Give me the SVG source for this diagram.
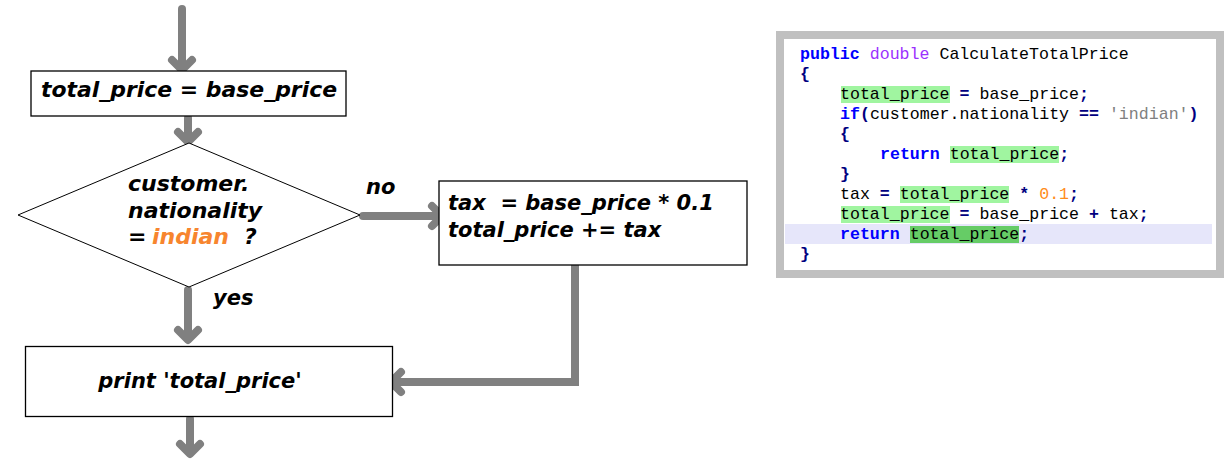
<svg xmlns="http://www.w3.org/2000/svg" width="1231" height="476" viewBox="0 0 1231 476">
<style>
.box{fill:#fff;stroke:#000;stroke-width:1.3}
.dia{fill:#fff;stroke:#000;stroke-width:1}
.fl{font-family:"DejaVu Sans",sans-serif;font-weight:bold;font-style:italic;font-size:21px;fill:#000;white-space:pre}
.big{font-size:22px}
.org{fill:#f7852e}
.arr{fill:none;stroke:#808080;stroke-width:8;stroke-linecap:round;stroke-linejoin:miter}
.head{fill:none;stroke:#808080;stroke-width:8;stroke-linecap:round;stroke-linejoin:round}
.code{font-family:"Liberation Mono",monospace;font-size:16.6px;fill:#000;white-space:pre}
.kw{fill:#0000ff;font-weight:bold}
.ty{fill:#9b30ff}
.op{fill:#000080;font-weight:bold}
.st{fill:#808080}
.nm{fill:#ff8c1a}
.hl{fill:#a0f5a0}
.hl2{fill:#66cc66}
</style>
<g id="connectors">
  <path class="arr" d="M182 9 V68"/>
  <path class="head" d="M172 60 L182 70 L192 60"/>
  <path class="arr" d="M188 118 V140"/>
  <path class="head" d="M178 132 L188 142 L198 132"/>
  <path class="arr" d="M363 216 H440"/>
  <path class="head" d="M432 206 L442 216 L432 226"/>
  <path class="arr" d="M188 290 V338"/>
  <path class="head" d="M178 330 L188 340 L198 330"/>
  <path class="arr" d="M575 265 V382 H393"/>
  <path class="head" d="M401 372 L391 382 L401 392"/>
  <path class="arr" d="M190 419 V452"/>
  <path class="head" d="M180 444 L190 454 L200 444"/>
</g>
<g id="n1">
  <rect class="box" x="31" y="71" width="315" height="45"/>
  <text class="fl" x="189" y="97" text-anchor="middle" textLength="296" lengthAdjust="spacingAndGlyphs">total_price = base_price</text>
</g>
<g id="n2">
  <polygon class="dia" points="189,143 360,215 189,287 18,215"/>
  <text class="fl big" x="128" y="191">customer.</text>
  <text class="fl big" x="128" y="218">nationality</text>
  <text class="fl big" x="128" y="244">=</text>
  <text class="fl big org" x="152" y="244">indian</text>
  <text class="fl big" x="244" y="244">?</text>
</g>
<g id="labels">
  <text class="fl" x="366" y="194">no</text>
  <text class="fl" x="213" y="305">yes</text>
</g>
<g id="n3">
  <rect class="box" x="439" y="181" width="308" height="84"/>
  <text class="fl" x="448" y="210">tax  = base_price * 0.1</text>
  <text class="fl" x="448" y="237">total_price += tax</text>
</g>
<g id="n4">
  <rect class="box" x="25.5" y="346.5" width="367" height="70"/>
  <text class="fl" x="200" y="388" text-anchor="middle">print 'total_price'</text>
</g>
<g id="code">
  <rect x="780" y="35" width="440" height="239" fill="#fff" stroke="#c0c0c0" stroke-width="8"/>
  <rect x="785" y="224" width="427" height="20" fill="#e6e6fa"/>
  <rect class="hl" x="841" y="86" width="109" height="17"/>
  <rect class="hl" x="950" y="146" width="109" height="17"/>
  <rect class="hl" x="900" y="186" width="109" height="17"/>
  <rect class="hl" x="841" y="206" width="109" height="17"/>
  <rect class="hl2" x="910" y="226" width="109" height="17"/>
  <text class="code" x="800" y="59"><tspan class="kw">public</tspan> <tspan class="ty">double</tspan> CalculateTotalPrice</text>
  <text class="code" x="800" y="79"><tspan class="op">{</tspan></text>
  <text class="code" x="840" y="99">total_price <tspan class="op">=</tspan> base_price<tspan class="op">;</tspan></text>
  <text class="code" x="840" y="119"><tspan class="kw">if</tspan><tspan class="op">(</tspan>customer.nationality <tspan class="op">==</tspan> <tspan class="st">'indian'</tspan><tspan class="op">)</tspan></text>
  <text class="code" x="840" y="139"><tspan class="op">{</tspan></text>
  <text class="code" x="880" y="159"><tspan class="kw">return</tspan> total_price<tspan class="op">;</tspan></text>
  <text class="code" x="840" y="179"><tspan class="op">}</tspan></text>
  <text class="code" x="840" y="199">tax <tspan class="op">=</tspan> total_price <tspan class="op">*</tspan> <tspan class="nm">0.1</tspan><tspan class="op">;</tspan></text>
  <text class="code" x="840" y="219">total_price <tspan class="op">=</tspan> base_price <tspan class="op">+</tspan> tax<tspan class="op">;</tspan></text>
  <text class="code" x="840" y="239"><tspan class="kw">return</tspan> total_price<tspan class="op">;</tspan></text>
  <text class="code" x="800" y="259"><tspan class="op">}</tspan></text>
</g>
</svg>
